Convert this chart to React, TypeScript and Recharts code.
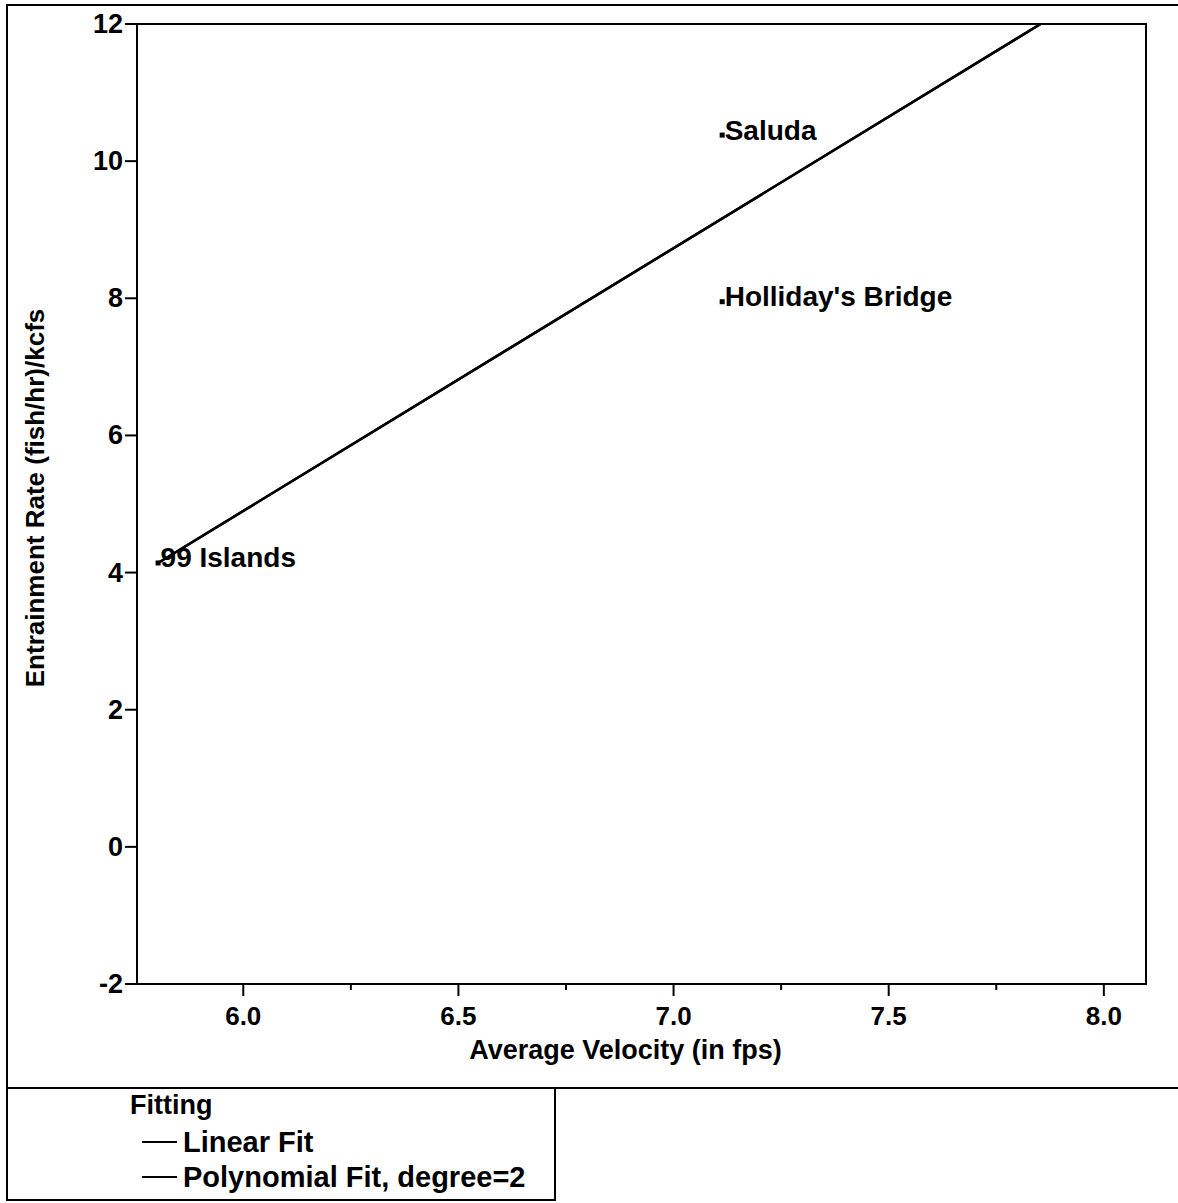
import React from "react";
import { ComposedChart, Scatter, XAxis, YAxis, LabelList, ReferenceArea } from "recharts";

// ---- data ----
const sites = ["99 Islands", "Saluda", "Holliday's Bridge"];
const velocity = [5.802, 7.113, 7.113];
const entrainment = [4.14, 10.38, 7.95];

const fitVelocity = [5.802, 7.853];
const linearFitRate = [4.14, 12.0];
const polyFitRate = [4.14, 12.0];

const xTicks = [6.0, 6.25, 6.5, 6.75, 7.0, 7.25, 7.5, 7.75, 8.0];
const xMajorTicks = [6.0, 6.5, 7.0, 7.5, 8.0];
const yTicks = [-2, 0, 2, 4, 6, 8, 10, 12];
const xDomain = [5.753, 8.098];
const yDomain = [-2, 12];

const legendTitle = "Fitting";
const legendItems = ["Linear Fit", "Polynomial Fit, degree=2"];

const points = sites.map((name, i) => ({ name, x: velocity[i], y: entrainment[i] }));
const linearData = fitVelocity.map((x, i) => ({ x, y: linearFitRate[i] }));
const polyData = fitVelocity.map((x, i) => ({ x, y: polyFitRate[i] }));

const FONT = "'Liberation Sans', Arial, Helvetica, sans-serif";
const W = 1178;
const H = 1203;
const PLOT_LEFT = 137;
const PLOT_TOP = 24;
const PLOT_RIGHT = 1146;
const PLOT_BOTTOM = 984;
const SEP_Y = 1087;

const XTick = (props: any) => {
  const { x, y, payload } = props;
  const v = payload.value;
  const major = xMajorTicks.some((m) => Math.abs(m - v) < 1e-6);
  return (
    <g>
      <line x1={x} x2={x} y1={y} y2={y + (major ? 12 : 6)} stroke="#000" strokeWidth={2} />
      {major && (
        <text x={x} y={y + 41} textAnchor="middle" fontFamily={FONT} fontWeight={700} fontSize={26} fill="#000">
          {v.toFixed(1)}
        </text>
      )}
    </g>
  );
};

const YTick = (props: any) => {
  const { x, y, payload } = props;
  return (
    <g>
      <line x1={x} x2={x - 12} y1={y} y2={y} stroke="#000" strokeWidth={2} />
      <text x={x - 14} y={y + 9} textAnchor="end" fontFamily={FONT} fontWeight={700} fontSize={27} fill="#000">
        {payload.value}
      </text>
    </g>
  );
};

const PointLabel = (props: any) => {
  const { x, y, value } = props;
  return (
    <text x={x + 7} y={y + 9} fontFamily={FONT} fontWeight={700} fontSize={28} fill="#000">
      {value}
    </text>
  );
};

const Dot = (props: any) => {
  const { cx, cy } = props;
  return <rect x={cx - 2.5} y={cy - 2.5} width={5} height={5} fill="#000" />;
};

const NoShape = () => null;

const XLabel = (props: any) => {
  const vb = props.viewBox;
  return (
    <text x={vb.x + vb.width / 2 - 16} y={PLOT_BOTTOM + 75} textAnchor="middle" fontFamily={FONT} fontWeight={700} fontSize={27} fill="#000">
      Average Velocity (in fps)
    </text>
  );
};

const YLabel = () => {
  const cx = 44;
  const cy = 498;
  return (
    <text x={cx} y={cy} transform={`rotate(-90 ${cx} ${cy})`} textAnchor="middle" fontFamily={FONT} fontWeight={700} fontSize={26} fill="#000">
      Entrainment Rate (fish/hr)/kcfs
    </text>
  );
};

export default function App() {
  return (
    <div style={{ position: "absolute", left: 0, top: 0, width: W, height: H, background: "#fff", overflow: "hidden" }}>
      {/* outer frame lines */}
      <div style={{ position: "absolute", left: 6, top: 4, width: W - 6, height: 2, background: "#000" }} />
      <div style={{ position: "absolute", left: 6, top: 4, width: 2, height: 1197, background: "#000" }} />
      <div style={{ position: "absolute", left: 6, top: SEP_Y, width: W - 6, height: 2, background: "#000" }} />
      <div style={{ position: "absolute", left: 554, top: SEP_Y, width: 2, height: 113, background: "#000" }} />
      <div style={{ position: "absolute", left: 6, top: 1199, width: 550, height: 2, background: "#000" }} />

      <div style={{ position: "absolute", left: 0, top: 0 }}>
        <ComposedChart
          width={W}
          height={SEP_Y}
          margin={{ top: PLOT_TOP, right: W - PLOT_RIGHT, bottom: 0, left: 0 }}
        >
          <XAxis
            xAxisId="b"
            type="number"
            dataKey="x"
            domain={xDomain}
            ticks={xTicks}
            allowDataOverflow
            tickLine={false}
            tickSize={0}
            tickMargin={0}
            tick={<XTick />}
            height={SEP_Y - PLOT_BOTTOM}
            axisLine={{ stroke: "#000", strokeWidth: 2 }}
            interval={0}
            label={<XLabel />}
          />
          <YAxis
            yAxisId="l"
            type="number"
            dataKey="y"
            domain={yDomain}
            ticks={yTicks}
            allowDataOverflow
            tickLine={false}
            tickSize={0}
            tickMargin={0}
            tick={<YTick />}
            width={PLOT_LEFT}
            axisLine={{ stroke: "#000", strokeWidth: 2 }}
            interval={0}
            label={<YLabel />}
          />
          <ReferenceArea
            xAxisId="b"
            yAxisId="l"
            x1={xDomain[0]}
            x2={xDomain[1]}
            y1={yDomain[0]}
            y2={yDomain[1]}
            fill="none"
            fillOpacity={0}
            stroke="#000"
            strokeWidth={2}
            ifOverflow="visible"
          />
          <Scatter
            xAxisId="b"
            yAxisId="l"
            name="Linear Fit"
            data={linearData}
            line={{ stroke: "#000", strokeWidth: 2.5 }}
            lineType="joint"
            shape={<NoShape />}
            isAnimationActive={false}
          />
          <Scatter
            xAxisId="b"
            yAxisId="l"
            name="Polynomial Fit, degree=2"
            data={polyData}
            line={{ stroke: "#000", strokeWidth: 2.5 }}
            lineType="joint"
            shape={<NoShape />}
            isAnimationActive={false}
          />
          <Scatter
            xAxisId="b"
            yAxisId="l"
            name="Sites"
            data={points}
            shape={<Dot />}
            isAnimationActive={false}
          >
            <LabelList dataKey="name" content={<PointLabel />} />
          </Scatter>
        </ComposedChart>
      </div>

      {/* legend box */}
      <div style={{ position: "absolute", left: 8, top: SEP_Y + 2, width: 546, height: 110, fontFamily: FONT, fontWeight: 700, color: "#000" }}>
        <div style={{ position: "absolute", left: 122, top: 1, fontSize: 27, lineHeight: "30px" }}>{legendTitle}</div>
        {legendItems.map((t, i) => (
          <div key={t} style={{ position: "absolute", left: 134, top: 38 + i * 35, height: 30, display: "flex", alignItems: "center", fontSize: 29, lineHeight: "30px" }}>
            <span style={{ display: "inline-block", width: 35, height: 2, background: "#000", marginRight: 6 }} />
            <span>{t}</span>
          </div>
        ))}
      </div>
    </div>
  );
}
